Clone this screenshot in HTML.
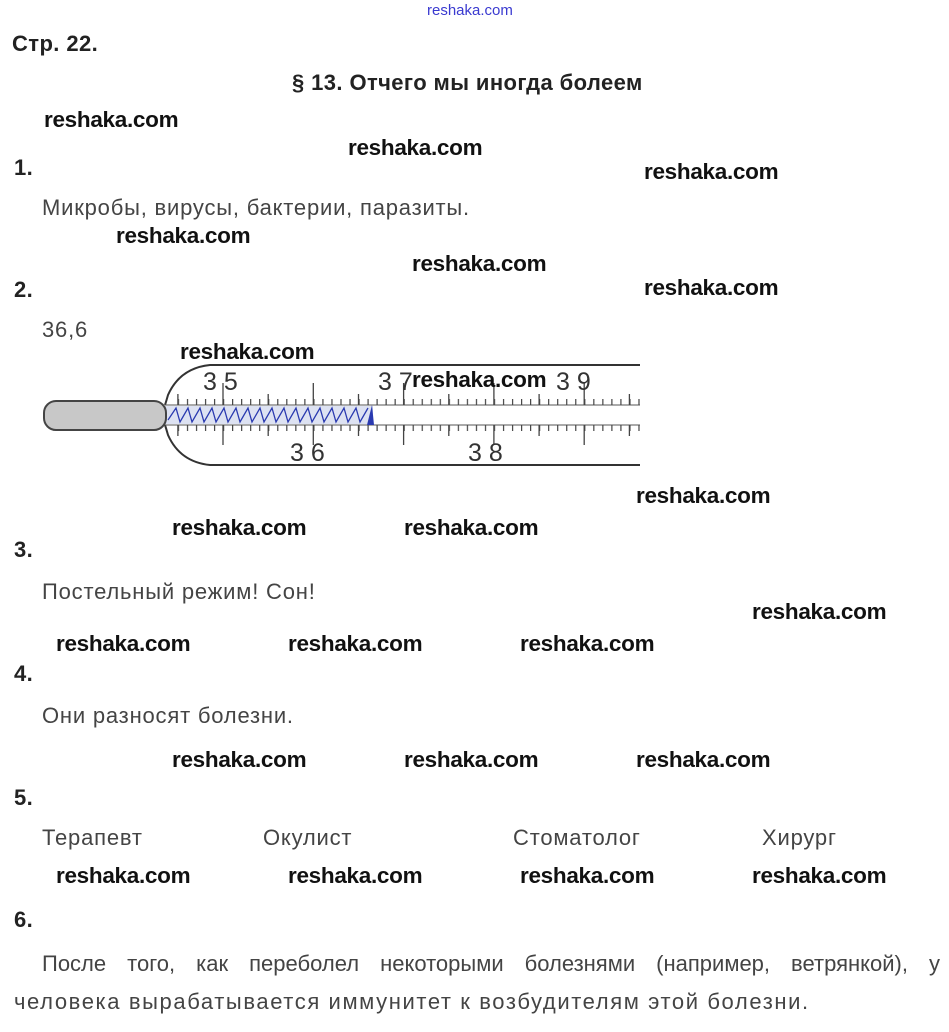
<!DOCTYPE html>
<html><head><meta charset="utf-8"><style>
body{margin:0;width:949px;height:1032px;background:#fff;position:relative;overflow:hidden;font-family:"Liberation Sans",sans-serif}
.a{position:absolute;white-space:nowrap;line-height:24px}
.w{font-weight:bold;font-size:22.5px;color:#111;letter-spacing:-0.3px}
.h{font-weight:bold;font-size:22px;color:#222;letter-spacing:0.4px}
.t{font-size:22px;color:#444;letter-spacing:0.8px}
</style></head><body>
<div class="a" style="left:427px;top:0px;font-size:15px;color:#3a3ad0;line-height:22px">reshaka.com</div>
<div class="a h" style="left:12px;top:32px">Стр. 22.</div>
<div class="a h" style="left:292px;top:71px">§ 13. Отчего мы иногда болеем</div>
<div class="a w" style="left:44px;top:108px">reshaka.com</div>
<div class="a w" style="left:348px;top:136px">reshaka.com</div>
<div class="a h" style="left:14px;top:156px">1.</div>
<div class="a w" style="left:644px;top:160px">reshaka.com</div>
<div class="a t" style="left:42px;top:196px">Микробы, вирусы, бактерии, паразиты.</div>
<div class="a w" style="left:116px;top:224px">reshaka.com</div>
<div class="a w" style="left:412px;top:252px">reshaka.com</div>
<div class="a h" style="left:14px;top:278px">2.</div>
<div class="a w" style="left:644px;top:276px">reshaka.com</div>
<div class="a t" style="left:42px;top:318px">36,6</div>
<div class="a w" style="left:180px;top:340px">reshaka.com</div>
<svg class="a" style="left:0;top:355px" width="660" height="120" viewBox="0 355 660 120">
<defs>
<pattern id="p" patternUnits="userSpaceOnUse" x="223" y="0" width="9.03" height="1000">
<line x1="0.6" y1="0" x2="0.6" y2="1000" stroke="#444" stroke-width="1.2"/>
</pattern>
</defs>
<path d="M640 365 H210 Q180 368 168 395 Q166 402 165 405 M640 465 H210 Q180 462 168 435 Q166 428 165 425" fill="none" stroke="#333" stroke-width="2"/>
<line x1="165" y1="405" x2="640" y2="405" stroke="#555" stroke-width="1"/>
<line x1="165" y1="425" x2="640" y2="425" stroke="#555" stroke-width="1"/>
<rect x="172" y="399" width="468" height="6" fill="url(#p)"/>
<rect x="172" y="425" width="468" height="6" fill="url(#p)"/>
<g stroke="#444" stroke-width="1.3">
<path d="M223 383V405M223 425V445M313.3 383V405M313.3 425V445M403.6 383V405M403.6 425V445M493.9 383V405M493.9 425V445M584.2 383V405M584.2 425V445"/>
<path d="M177.9 394V405M177.9 425V436M268.2 394V405M268.2 425V436M358.5 394V405M358.5 425V436M448.8 394V405M448.8 425V436M539.1 394V405M539.1 425V436M629.4 394V405M629.4 425V436"/>
</g>
<rect x="165" y="406" width="208" height="18" fill="#dde2f2"/>
<path d="M168 420 l8 -12 l4 14 l8 -14 l4 14 l8 -14 l4 14 l8 -14 l4 14 l8 -14 l4 14 l8 -14 l4 14 l8 -14 l4 14 l8 -14 l4 14 l8 -14 l4 14 l8 -14 l4 14 l8 -14 l4 14 l8 -14 l4 14 l8 -14 l4 14 l8 -14 l4 14 l8 -14 l4 14 l8 -14 l4 14 l8 -14" fill="none" stroke="#2a3ab0" stroke-width="1.3"/>
<path d="M367 425 L372 405 L374 425 Z" fill="#2a3ab0"/>
<rect x="44" y="401" width="122" height="29" rx="12" fill="#c8c8c8" stroke="#444" stroke-width="2"/>
<g font-family="Liberation Sans,sans-serif" font-size="25" fill="#333">
<text x="203" y="390">3 5</text>
<text x="378" y="390">3 7</text>
<text x="556" y="390">3 9</text>
<text x="290" y="461">3 6</text>
<text x="468" y="461">3 8</text>
</g>
</svg>
<div class="a w" style="left:412px;top:368px">reshaka.com</div>
<div class="a w" style="left:636px;top:484px">reshaka.com</div>
<div class="a w" style="left:172px;top:516px">reshaka.com</div>
<div class="a w" style="left:404px;top:516px">reshaka.com</div>
<div class="a h" style="left:14px;top:538px">3.</div>
<div class="a t" style="left:42px;top:580px">Постельный режим! Сон!</div>
<div class="a w" style="left:752px;top:600px">reshaka.com</div>
<div class="a w" style="left:56px;top:632px">reshaka.com</div>
<div class="a w" style="left:288px;top:632px">reshaka.com</div>
<div class="a w" style="left:520px;top:632px">reshaka.com</div>
<div class="a h" style="left:14px;top:662px">4.</div>
<div class="a t" style="left:42px;top:704px">Они разносят болезни.</div>
<div class="a w" style="left:172px;top:748px">reshaka.com</div>
<div class="a w" style="left:404px;top:748px">reshaka.com</div>
<div class="a w" style="left:636px;top:748px">reshaka.com</div>
<div class="a h" style="left:14px;top:786px">5.</div>
<div class="a t" style="left:42px;top:826px">Терапевт</div>
<div class="a t" style="left:263px;top:826px">Окулист</div>
<div class="a t" style="left:513px;top:826px">Стоматолог</div>
<div class="a t" style="left:762px;top:826px">Хирург</div>
<div class="a w" style="left:56px;top:864px">reshaka.com</div>
<div class="a w" style="left:288px;top:864px">reshaka.com</div>
<div class="a w" style="left:520px;top:864px">reshaka.com</div>
<div class="a w" style="left:752px;top:864px">reshaka.com</div>
<div class="a h" style="left:14px;top:908px">6.</div>
<div class="a t" style="left:42px;top:952px;width:898px;white-space:normal;text-align:justify;text-align-last:justify;letter-spacing:0">После того, как переболел некоторыми болезнями (например, ветрянкой), у</div>
<div class="a t" style="left:14px;top:990px;letter-spacing:1.6px">человека вырабатывается иммунитет к возбудителям этой болезни.</div>
</body></html>
